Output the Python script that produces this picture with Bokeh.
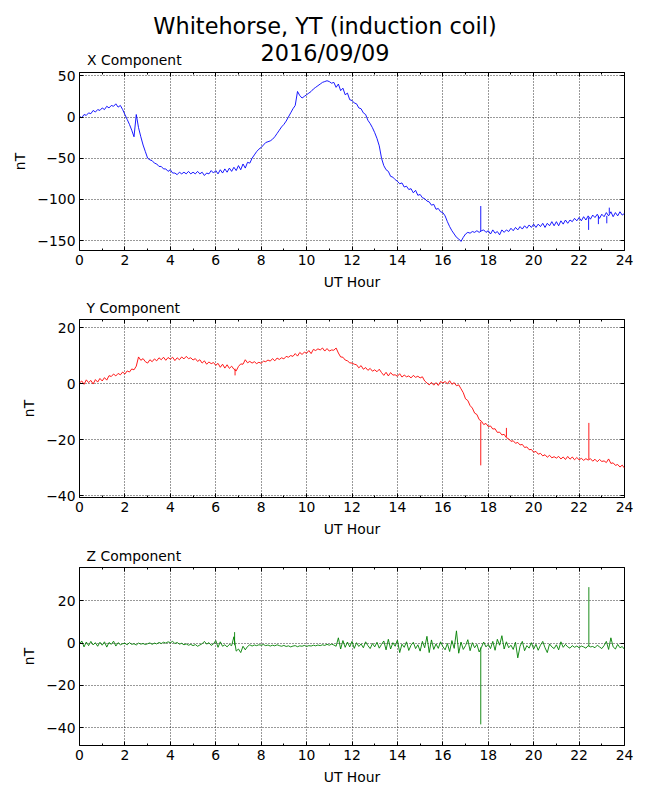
from bokeh.plotting import figure
from bokeh.layouts import column
from bokeh.models import Div, FixedTicker, LinearAxis, Range1d, CustomJSTickFormatter
from bokeh.embed import file_html
from bokeh.resources import INLINE
import numpy as np

# magnetometer samples every 0.1 UT hour (nT)
x_comp = [
    1, -1, 3, 2, 5, 4, 8, 6, 9, 8,
    11, 9, 13, 11, 14, 13, 16, 12, 14, 9,
    3, -3, -9, -16, -24, 3, -13, -24, -34, -42,
    -50, -52, -53, -56, -57, -60, -60, -63, -63, -66,
    -64, -68, -68, -70, -67, -69, -67, -69, -66, -69,
    -67, -69, -66, -69, -67, -71, -68, -69, -65, -68,
    -65, -69, -64, -68, -63, -67, -62, -66, -61, -65,
    -59, -64, -57, -62, -55, -56, -50, -46, -42, -39,
    -37, -34, -31, -30, -29, -27, -24, -20, -16, -12,
    -9, -5, 0, 5, 10, 14, 31, 26, 23, 25,
    27, 29, 31, 34, 36, 38, 40, 42, 43, 44,
    43, 41, 42, 36, 40, 32, 35, 27, 29, 21,
    20, 17, 16, 11, 10, 5, 3, -4, -8, -13,
    -19, -26, -35, -50, -59, -64, -66, -72, -73, -76,
    -78, -81, -80, -85, -84, -88, -87, -92, -89, -95,
    -94, -98, -99, -102, -103, -107, -106, -112, -111, -115,
    -116, -120, -127, -133, -138, -142, -146, -148, -151, -146,
    -142, -140, -141, -139, -140, -138, -140, -138, -137, -140,
    -138, -142, -137, -141, -139, -143, -137, -140, -137, -139,
    -135, -138, -134, -137, -133, -136, -132, -135, -131, -134,
    -130, -134, -130, -133, -129, -134, -129, -132, -127, -132,
    -127, -132, -126, -130, -125, -129, -125, -127, -123, -126,
    -122, -126, -121, -125, -120, -124, -119, -122, -118, -123,
    -118, -121, -116, -120, -115, -121, -116, -120, -115, -119,
    -117,
]

y_comp = [
    0.3, 1.0, -0.2, 1.4, 0.4, 1.2, -0.1, 1.5, 0.6, 1.9,
    1.0, 2.2, 1.3, 2.9, 2.6, 3.5, 2.8, 3.7, 3.2, 4.2,
    3.5, 4.6, 4.2, 5.3, 5.0, 6.3, 9.6, 8.4, 9.0, 7.9,
    7.4, 8.6, 7.9, 8.9, 8.2, 9.3, 8.6, 9.5, 8.4, 9.4,
    8.8, 9.5, 8.3, 9.3, 8.6, 9.6, 8.9, 9.8, 9.0, 9.3,
    8.5, 9.0, 8.0, 8.6, 7.4, 8.2, 7.0, 7.8, 7.2, 7.6,
    6.6, 7.3, 5.9, 7.0, 5.6, 6.8, 5.5, 6.3, 5.2, 4.6,
    6.2, 7.1, 7.0, 8.6, 7.5, 8.0, 7.4, 7.9, 7.2, 7.7,
    7.3, 8.1, 7.9, 8.5, 8.1, 9.0, 8.2, 9.2, 8.7, 9.3,
    8.9, 9.8, 9.5, 10.1, 9.8, 10.8, 9.9, 11.2, 10.5, 11.3,
    10.9, 11.9, 10.8, 12.3, 11.9, 12.5, 12.1, 12.8, 11.7, 12.6,
    11.7, 12.1, 12.0, 12.8, 11.0, 9.6, 9.5, 8.5, 8.2, 7.5,
    7.4, 7.0, 6.8, 5.7, 6.5, 5.2, 5.8, 4.8, 5.5, 4.5,
    5.0, 4.3, 5.2, 4.0, 3.0, 4.1, 2.8, 4.0, 3.1, 3.2,
    2.7, 3.6, 2.4, 3.1, 2.5, 2.8, 2.1, 3.0, 2.3, 2.7,
    2.1, 2.5, 1.0, 0.3, -0.4, 0.5, -0.5, 0.4, -0.6, 0.8,
    0.3, 0.8, 0.0, 1.1, -0.2, 0.4, -0.7, -0.4, -1.8, -3.2,
    -5.4, -6.0, -7.8, -8.7, -10.5, -11.0, -12.8, -13.4, -14.6, -14.2,
    -15.3, -15.1, -16.2, -16.1, -17.4, -17.3, -18.3, -18.1, -19.3, -19.7,
    -20.6, -20.4, -21.3, -21.0, -21.9, -21.7, -22.8, -22.6, -23.6, -23.5,
    -24.5, -24.2, -25.2, -24.9, -25.8, -25.4, -26.3, -25.6, -26.5, -26.1,
    -26.6, -26.0, -26.9, -26.2, -27.1, -26.0, -27.0, -26.2, -27.2, -26.4,
    -27.2, -26.7, -27.4, -26.8, -27.3, -26.8, -27.7, -27.0, -27.9, -27.1,
    -27.8, -27.6, -28.2, -26.9, -28.5, -28.3, -29.2, -28.9, -29.8, -29.1,
    -30.2,
]

z_comp = [
    -0.5, 1.0, -1.8, 0.5, -1.2, 0.8, -0.9, 0.2, -1.5, 0.4,
    -1.0, 0.6, -1.9, 0.3, -0.6, 0.9, -1.4, 0.2, -0.8, -0.3,
    -0.1, -0.8, 0.2, -0.6, -0.3, -0.9, 0.0, -0.5, -0.2, -0.7,
    -0.3, 0.1, -0.6, 0.0, -0.4, 0.3, -0.2, 0.4, 0.0, 0.6,
    0.2, 0.8, -0.2, 0.3, -0.5, -0.1, -0.8, -0.4, -1.0, -0.6,
    -1.2, -0.7, -1.5, -0.9, -0.3, 0.8, -0.5, 0.2, -1.1, -0.4,
    1.2, -2.0, 0.6, -1.5, -0.8, -1.8, -0.6, -1.2, 3.0, -3.8,
    -2.8, -4.5, -1.5, -3.2, -1.6, -0.8, -1.4, -0.9, -1.2, -0.8,
    -1.0, -0.7, -1.2, -0.9, -1.4, -1.0, -1.3, -0.8, -1.2, -1.5,
    -1.1, -1.6, -1.3, -1.8, -1.4, -1.2, -1.7, -1.3, -1.5, -1.1,
    -1.6, -1.2, -1.4, -1.0, -1.3, -0.9, -1.2, -0.8, -1.1, -0.6,
    -1.0, -0.5, -0.9, -1.5, 2.5, -2.8, 1.2, -2.0, 0.5, -1.8,
    0.8, -2.5, 0.2, -1.6, -0.4, -2.2, 0.6, -1.2, -2.6, -0.2,
    -1.8, 0.4, -2.4, -0.6, 1.0, -3.2, 1.8, -2.8, 0.2, -1.5,
    1.4, -4.5, -0.5, -2.0, 0.6, -3.5, -1.0, 0.4, -2.6, -0.8,
    -3.8, 0.8, -2.2, 3.2, -4.5, 1.5, -3.0, -0.4, -2.5, 0.6,
    -1.6, -3.2, -0.2, -4.0, 1.2, -2.5, 5.8, -4.8, 0.5, -3.0,
    -1.2, 1.6, -3.6, 0.2, -2.2, -0.6, -4.2, -2.0, 0.5, -1.8,
    -0.6, -2.6, 0.8, -3.4, 1.8, -1.0, 3.5, -2.8, 0.6, -2.2,
    -1.0, -3.0, 0.4, -7.0, -1.5, 0.8, -3.6, -1.2, -2.4, 0.2,
    -2.8, -0.6, -3.4, -1.0, 0.8, -2.2, -4.5, -0.4, -1.8, -2.6,
    -0.8, -3.2, 0.6, -2.0, -0.6, -1.8, -2.4, -1.2, -2.0, -1.4,
    -2.2, -1.4, -1.8, -2.4, -1.2, -1.8, -1.6, -2.2, -1.0, -1.8,
    -2.6, -1.2, 0.8, -3.0, 2.5, -1.8, -2.8, -0.6, -2.2, -1.6,
    -3.0,
]

# short single-sample spikes: hour, value just before, peak value
x_spike_hour = [17.67, 22.42, 22.85, 23.22, 23.33]
x_spike_base = [-139, -122, -120, -120, -117]
x_spike_peak = [-108, -137, -130, -129, -110]

y_spike_hour = [6.85, 17.67, 18.8, 22.43]
y_spike_base = [5.4, -13.6, -19.0, -27.0]
y_spike_peak = [3.0, -29.2, -15.8, -14.0]

z_spike_hour = [6.83, 17.67, 22.43]
z_spike_base = [-1.0, -2.0, -1.5]
z_spike_peak = [5.2, -38.5, 26.5]

hours = np.round(np.arange(len(x_comp)) * 0.1, 1)

hour_ticks = list(range(0, 25, 2))
hour_minor = list(range(0, 25))

FONT = "DejaVu Sans"
FS = "13.9px"

minus_fmt = "return tick < 0 ? '\u2212' + (-tick) : '' + tick;"


def panel(name, values, color, yr, yticks, sp_h, sp_b, sp_p, top, bottom):
    p = figure(frame_width=545, frame_height=178, x_range=Range1d(0, 24),
               y_range=Range1d(*yr), output_backend="svg", toolbar_location=None,
               min_border_left=79, min_border_right=22,
               min_border_top=top, min_border_bottom=bottom,
               title=name)
    p.line(hours, values, color=color, line_width=0.9)
    p.segment(x0=sp_h, y0=sp_b, x1=sp_h, y1=sp_p, color=color, line_width=0.9)

    p.outline_line_color = "black"
    p.outline_line_width = 1

    if name:
        p.title.align = "left"
        p.title.offset = 7
        p.title.standoff = 8
        p.title.text_font = FONT
        p.title.text_font_size = FS
        p.title.text_font_style = "normal"
        p.title.text_color = "black"

    bottom_ax = p.xaxis[0]
    left_ax = p.yaxis[0]
    bottom_ax.ticker = FixedTicker(ticks=hour_ticks, minor_ticks=hour_minor)
    left_ax.ticker = FixedTicker(ticks=yticks)
    left_ax.formatter = CustomJSTickFormatter(code=minus_fmt)
    bottom_ax.axis_label = "UT Hour"
    left_ax.axis_label = "nT"

    # matplotlib-like ticks on the top and right sides, no labels there
    top_ax = LinearAxis(ticker=FixedTicker(ticks=hour_ticks, minor_ticks=hour_minor),
                        formatter=CustomJSTickFormatter(code="return ''"))
    right_ax = LinearAxis(ticker=FixedTicker(ticks=yticks),
                          formatter=CustomJSTickFormatter(code="return ''"))
    p.add_layout(top_ax, "above")
    p.add_layout(right_ax, "right")

    for ax in (bottom_ax, left_ax, top_ax, right_ax):
        ax.axis_line_color = None
        ax.major_tick_in = 4
        ax.major_tick_out = 0
        ax.minor_tick_in = 2
        ax.minor_tick_out = 0
        ax.major_tick_line_color = "black"
        ax.minor_tick_line_color = "black"
    for ax in (top_ax, right_ax):
        ax.major_label_text_font_size = "0px"
        ax.major_label_standoff = 0
    for ax in (bottom_ax, left_ax):
        ax.major_label_text_font = FONT
        ax.major_label_text_font_size = FS
        ax.major_label_text_color = "black"
        ax.major_label_standoff = 4
        ax.axis_label_text_font = FONT
        ax.axis_label_text_font_size = FS
        ax.axis_label_text_font_style = "normal"
        ax.axis_label_text_color = "black"
        ax.axis_label_standoff = 6
    left_ax.minor_tick_line_color = None
    right_ax.minor_tick_line_color = None

    p.grid.grid_line_color = "black"
    p.grid.grid_line_dash = "1 2"
    p.grid.grid_line_width = 1
    p.grid.grid_line_alpha = 0.8
    return p


header = Div(width=646, height=68, margin=(0, 0, 0, 0), text=(
    f'<div style="position:relative;width:646px;height:68px;font-family:\'{FONT}\';color:black">'
    '<div style="position:absolute;left:2px;top:13px;width:646px;text-align:center;'
    'font-size:22.4px;line-height:27px">Whitehorse, YT (induction coil)<br>2016/09/09</div>'
    '<div style="position:absolute;left:87px;top:52px;font-size:13.9px;line-height:16px">'
    'X Component</div></div>'))

p1 = panel(None, x_comp, "#0000ff", (-162, 54), [-150, -100, -50, 0, 50],
           x_spike_hour, x_spike_base, x_spike_peak, 4, 42)
p2 = panel("Y Component", y_comp, "#ff0000", (-40.7, 23), [-40, -20, 0, 20],
           y_spike_hour, y_spike_base, y_spike_peak, 27, 42)
p3 = panel("Z Component", z_comp, "#008000", (-48.5, 35.8), [-40, -20, 0, 20],
           z_spike_hour, z_spike_base, z_spike_peak, 28, 44)

p = column(header, p1, p2, p3)
open("out.html", "w").write(file_html(p, INLINE))
